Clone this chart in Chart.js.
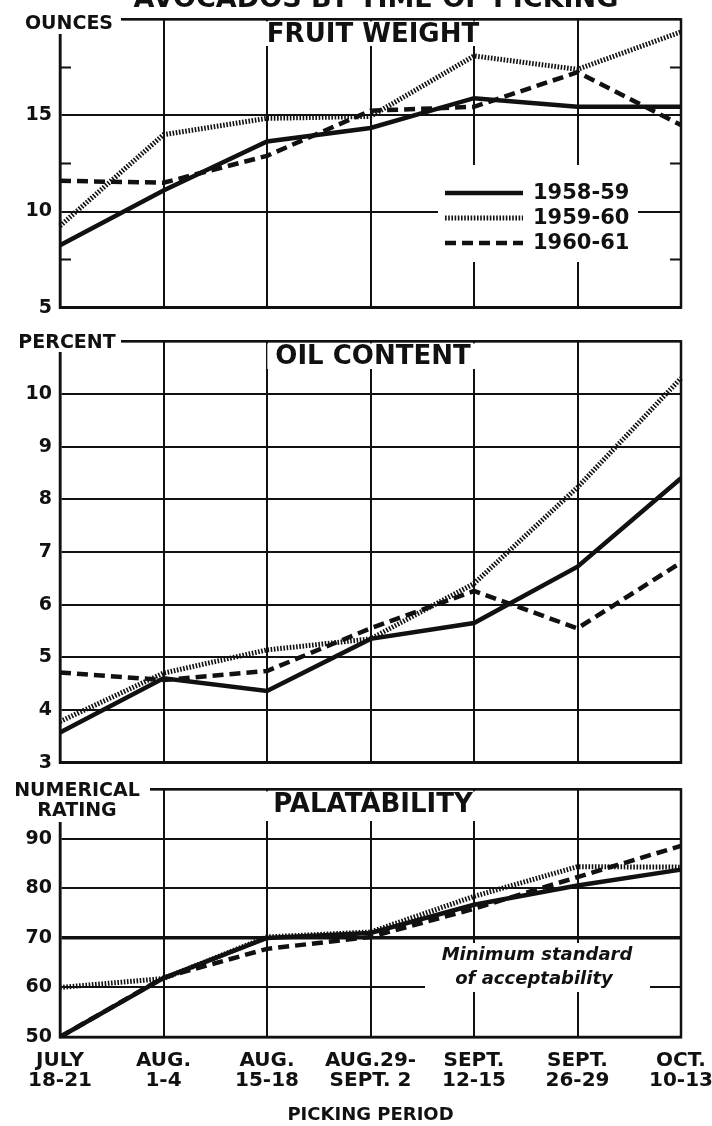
<!DOCTYPE html>
<html>
<head>
<meta charset="utf-8">
<title>Avocados by time of picking</title>
<script src="https://cdn.jsdelivr.net/npm/chart.js@4.4.0/dist/chart.umd.min.js"></script>
<style>
  html, body { margin: 0; padding: 0; background: #fff; }
  #wrap { position: relative; width: 712px; height: 1126px; overflow: hidden; background: #fff; }
  #wrap canvas { position: absolute; left: 0; }
</style>
</head>
<body>
<div id="wrap">
  <canvas id="weight" width="712" height="327" style="top:0px"></canvas>
  <canvas id="oil" width="712" height="460" style="top:322px"></canvas>
  <canvas id="taste" width="760" height="356" style="top:770px"></canvas>
</div>
<script>
// picking periods (x axis, two lines each)
const periods = [
    ['JULY', '18-21'], ['AUG.', '1-4'], ['AUG.', '15-18'], ['AUG.29-', 'SEPT. 2'],
    ['SEPT.', '12-15'], ['SEPT.', '26-29'], ['OCT.', '10-13']
];
const seasons = ['1958-59', '1959-60', '1960-61'];

// fruit weight, ounces
const weight5859 = [8.25, 11.1, 13.65, 14.35, 15.9, 15.45, 15.45];
const weight5960 = [9.25, 14.0, 14.85, 14.95, 18.1, 17.4, 19.35];
const weight6061 = [11.6, 11.5, 12.9, 15.25, 15.45, 17.25, 14.5];

// oil content, percent
const oil5859 = [3.57, 4.6, 4.36, 5.35, 5.65, 6.72, 8.4];
const oil5960 = [3.78, 4.7, 5.14, 5.35, 6.4, 8.23, 10.3];
const oil6061 = [4.71, 4.57, 4.74, 5.55, 6.26, 5.55, 6.8];

// palatability, numerical rating
const taste5859 = [50, 61.9, 70, 71, 76.7, 80.6, 83.8];
const taste5960 = [60, 61.8, 70.2, 71.2, 78.4, 84.4, 84.3];
const taste6061 = [50, 62, 67.8, 70.2, 75.9, 82.3, 88.6];

// y axis ticks (last one is the top frame, no label)
const weightTicks = [5, 10, 15, 20];
const weightMinor = [7.5, 12.5, 17.5];
const oilTicks = [3, 4, 5, 6, 7, 8, 9, 10, 11];
const tasteTicks = [50, 60, 70, 80, 90, 100];
const minStandard = 70;

const INK = '#111';
const FONT = '"DejaVu Sans", "Liberation Sans", sans-serif';
const PLOT_RIGHT = 681; // right frame on the page

// 3つの系列（実線・点線・破線）
function makeLines(a, b, c) {
    const base = { borderColor: INK, pointRadius: 0, tension: 0, fill: false, borderCapStyle: 'butt' };
    return [
        { ...base, label: seasons[0], data: a, borderWidth: 4.5 },
        { ...base, label: seasons[1], data: b, borderWidth: 5, borderDash: [1.6, 1.6] },
        { ...base, label: seasons[2], data: c, borderWidth: 4.5, borderDash: [11, 6] }
    ];
}

// パネルの飾り（枠、見出し、単位、凡例など）
function decoPlugin(d) {
    return {
        id: 'deco_' + d.key,
        beforeDatasetsDraw(chart) {
            const { ctx, chartArea: a } = chart;
            const ys = chart.scales.y;
            const T = d.top; // canvas offset on the page
            ctx.save();

            // frame
            ctx.strokeStyle = INK;
            ctx.lineWidth = 2.5;
            ctx.strokeRect(a.left, a.top, a.right - a.left, a.bottom - a.top);

            // short minor marks on both sides
            ctx.lineWidth = 2;
            (d.minor || []).forEach(v => {
                const py = ys.getPixelForValue(v);
                ctx.beginPath();
                ctx.moveTo(a.left, py); ctx.lineTo(a.left + 11, py);
                ctx.moveTo(a.right - 11, py); ctx.lineTo(a.right, py);
                ctx.stroke();
            });

            // white patches where the drawing leaves gaps
            ctx.fillStyle = '#fff';
            d.blanks.forEach(([x, y, w, h]) => ctx.fillRect(x, y - T, w, h));

            // panel title
            ctx.font = 'bold 26px ' + FONT;
            const tw = ctx.measureText(d.title).width;
            const cx = 373;
            ctx.fillRect(cx - tw / 2 - 8, a.top + 2, tw + 16, d.titleGap - T - a.top - 2);
            ctx.fillStyle = INK;
            ctx.textAlign = 'center';
            ctx.textBaseline = 'alphabetic';
            ctx.fillText(d.title, cx, d.titleY - T);

            // unit label at the top left
            ctx.font = 'bold 19px ' + FONT;
            d.unit.forEach((s, i) => ctx.fillText(s, d.unitX, d.unitY - T + i * 20));

            // legend
            if (d.legend) {
                ctx.fillStyle = '#fff';
                ctx.fillRect(438, 165, 200, 97);
                ctx.fillStyle = INK;
                ctx.strokeStyle = INK;
                ctx.font = 'bold 21px ' + FONT;
                ctx.textAlign = 'left';
                ctx.textBaseline = 'middle';
                chart.data.datasets.forEach((ds, i) => {
                    const ly = 193 + i * 25;
                    ctx.lineWidth = ds.borderWidth;
                    ctx.setLineDash(ds.borderDash || []);
                    ctx.beginPath();
                    ctx.moveTo(445, ly); ctx.lineTo(523, ly);
                    ctx.stroke();
                    ctx.setLineDash([]);
                    ctx.fillText(ds.label, 533, ly + 1);
                });
            }

            // note on the standard line
            if (d.note) {
                ctx.fillStyle = '#fff';
                ctx.fillRect(425, 943 - T, 225, 49);
                ctx.fillStyle = INK;
                ctx.font = 'italic bold 18px ' + FONT;
                ctx.textAlign = 'center';
                ctx.textBaseline = 'middle';
                ctx.fillText(d.note[0], 537, 955 - T);
                ctx.fillText(d.note[1], 534, 979 - T);
            }

            // figure heading, cut by the top edge
            if (d.heading) {
                ctx.font = 'bold 27px ' + FONT;
                ctx.textAlign = 'center';
                ctx.textBaseline = 'alphabetic';
                ctx.fillText(d.heading, 376, 7);
            }
            ctx.restore();
        }
    };
}

function makePanel(id, sets, ticks, d) {
    const top = ticks[ticks.length - 1];
    const canvas = document.getElementById(id);
    return new Chart(canvas, {
        type: 'line',
        data: { labels: periods, datasets: sets },
        options: {
            responsive: false,
            animation: false,
            events: [],
            layout: { padding: { left: 0, right: canvas.width - PLOT_RIGHT, top: d.padTop, bottom: d.padBottom } },
            plugins: { legend: { display: false }, tooltip: { enabled: false } },
            scales: {
                x: {
                    grid: { color: INK, lineWidth: 2, drawTicks: false },
                    border: { color: INK, width: 2.5 },
                    ticks: {
                        display: d.showX, autoSkip: false, maxRotation: 0, padding: 14,
                        color: INK, font: { family: FONT, size: 20, weight: 'bold', lineHeight: 1.0 }
                    },
                    title: {
                        display: d.showX, text: 'PICKING PERIOD', color: INK,
                        font: { family: FONT, size: 18, weight: 'bold' }, padding: { top: 0, bottom: 0 }
                    },
                    afterFit: s => { s.height = d.xHeight; }
                },
                y: {
                    min: ticks[0], max: top,
                    afterBuildTicks: s => { s.ticks = ticks.map(v => ({ value: v })); },
                    afterFit: s => { s.width = 60; },
                    grid: {
                        color: INK, drawTicks: false,
                        lineWidth: c => (c.tick && c.tick.value === d.thick) ? 3.5 : 2
                    },
                    border: { color: INK, width: 2.5 },
                    ticks: {
                        color: INK, padding: 8,
                        font: { family: FONT, size: 19, weight: 'bold' },
                        callback: v => v === top ? '' : v
                    }
                }
            }
        },
        plugins: [decoPlugin(d)]
    });
}

makePanel('weight', makeLines(weight5859, weight5960, weight6061), weightTicks, {
    key: 'weight', top: 0, padTop: 15, padBottom: 12, xHeight: 0, showX: false,
    title: 'FRUIT WEIGHT', titleY: 42, titleGap: 46,
    unit: ['OUNCES'], unitX: 69, unitY: 29,
    blanks: [[0, 0, 121, 34]],
    minor: weightMinor, legend: true,
    heading: 'AVOCADOS BY TIME OF PICKING'
});

makePanel('oil', makeLines(oil5859, oil5960, oil6061), oilTicks, {
    key: 'oil', top: 322, padTop: 13, padBottom: 14, xHeight: 0, showX: false,
    title: 'OIL CONTENT', titleY: 364, titleGap: 369,
    unit: ['PERCENT'], unitX: 67, unitY: 348,
    blanks: [[0, 331, 121, 21]]
});

makePanel('taste', makeLines(taste5859, taste5960, taste6061), tasteTicks, {
    key: 'taste', top: 770, padTop: 13, padBottom: 0, xHeight: 89, showX: true,
    title: 'PALATABILITY', titleY: 812, titleGap: 821,
    unit: ['NUMERICAL', 'RATING'], unitX: 77, unitY: 796,
    blanks: [[0, 780, 150, 42]],
    thick: minStandard,
    note: ['Minimum standard', 'of acceptability']
});
</script>
</body>
</html>
